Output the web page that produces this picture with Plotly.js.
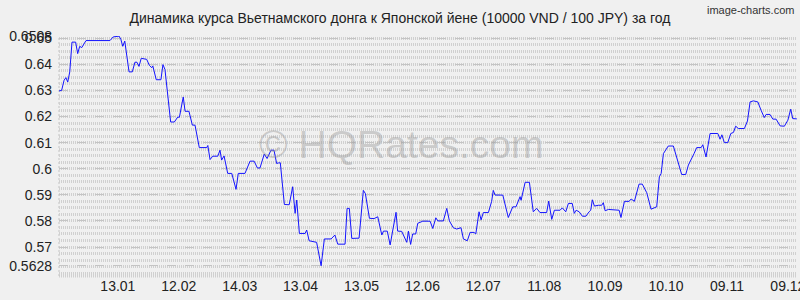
<!DOCTYPE html>
<html>
<head>
<meta charset="utf-8">
<script src="https://cdn.plot.ly/plotly-3.0.1.min.js"></script>
<style>html,body{margin:0;padding:0;background:#f0f0f0;}#chart{width:800px;height:300px;}</style>
</head>
<body>
<div id="chart"></div>
<script>
// Day offsets from the first observation (mid-December), and rate values (10000 VND / 100 JPY)
const days = [
  0,1.3,2.5,3.4,4.3,5.3,6.4,8.2,9.2,10.2,11.2,13.3,25.1,26.7,29.6,30.5,31.4,32.4,34.5,36.1,
  37.4,38.4,39.4,40.5,43.2,44.5,45.7,46.2,47.9,50.2,51.2,52.2,55.0,56.8,58.5,59.3,61.2,62.1,64.0,65.7,
  67.0,69.1,72.8,73.3,74.4,75.7,78.2,79.3,80.1,81.3,83.1,85.1,87.2,88.3,91.6,94.1,96.1,97.7,99.0,101.1,
  102.5,104.4,105.9,107.2,108.0,109.0,111.0,113.4,115.1,116.3,117.1,118.4,121.2,
  122.0,123.2,126.9,129.1,130.7,134.0,135.9,137.3,140.9,141.9,143.0,144.2,147.8,149.9,150.9,152.9,155.2,157.0,159.0,159.8,
  161.7,163.1,166.0,166.8,168.8,171.3,172.1,173.2,174.2,175.7,176.7,179.2,182.8,184.1,185.6,186.6,189.3,191.0,192.3,194.2,
  195.9,198.0,199.2,201.1,202.5,204.4,205.3,206.9,207.9,209.0,211.5,213.1,213.9,214.8,218.6,221.3,223.5,225.1,227.1,227.6,
  229.6,231.7,233.6,235.3,236.9,240.2,241.2,
  242.7,244.0,246.8,247.9,249.6,250.9,252.8,253.8,254.7,256.2,257.8,259.5,261.1,261.9,262.7,263.7,265.7,267.3,268.1,269.0,
  270.6,275.9,276.8,278.5,280.8,281.8,283.4,285.7,287.3,289.5,291.6,294.4,295.7,296.6,297.7,300.1,302.6,304.8,306.7,308.7,
  310.0,312.8,314.1,316.3,317.1,318.7,320.7,324.5,325.6,326.5,327.7,329.4,330.9,332.2,333.3,334.6,337.6,339.1,340.4,342.0,
  344.2,345.8,347.4,348.3,350.2,351.6,353.2,355.2,357.3,359.0,360.4,361.4,363.4
];
const rates = [
  0.6298,0.6300,0.6339,0.6349,0.6332,0.6371,0.6485,0.6485,0.6441,0.6469,0.6464,0.6491,0.6491,0.6505,0.6508,0.6495,0.6469,0.6489,0.6371,0.6371,
  0.6408,0.6408,0.6392,0.6423,0.6419,0.6396,0.6387,0.6394,0.6341,0.6341,0.6399,0.6380,0.6179,0.6179,0.6198,0.6197,0.6275,0.6220,0.6220,0.6167,
  0.6167,0.6081,0.6081,0.6089,0.6035,0.6048,0.6048,0.6071,0.6033,0.6049,0.5982,0.5982,0.5921,0.5982,0.5982,0.6029,0.6029,0.6003,0.6003,0.6056,
  0.6039,0.6071,0.6071,0.6020,0.6022,0.6023,0.5863,0.5862,0.5931,0.5829,0.5880,0.5752,0.5752,
  0.5765,0.5724,0.5718,0.5628,0.5731,0.5731,0.5746,0.5711,0.5711,0.5848,0.5848,0.5733,0.5734,0.5917,0.5905,0.5810,0.5809,0.5816,0.5746,0.5761,
  0.5761,0.5708,0.5833,0.5761,0.5760,0.5718,0.5761,0.5710,0.5750,0.5750,0.5791,0.5799,0.5799,0.5771,0.5812,0.5800,0.5800,0.5848,0.5800,0.5774,
  0.5769,0.5774,0.5731,0.5724,0.5756,0.5756,0.5750,0.5835,0.5804,0.5832,0.5832,0.5875,0.5917,0.5899,0.5899,0.5813,0.5854,0.5854,0.5893,0.5879,
  0.5948,0.5948,0.5835,0.5848,0.5832,0.5832,0.5876,
  0.5806,0.5841,0.5841,0.5850,0.5835,0.5867,0.5867,0.5829,0.5841,0.5835,0.5818,0.5818,0.5835,0.5841,0.5881,0.5857,0.5860,0.5860,0.5870,0.5839,
  0.5844,0.5841,0.5813,0.5875,0.5875,0.5884,0.5875,0.5941,0.5941,0.5908,0.5845,0.5854,0.5969,0.5982,0.6058,0.6087,0.6087,0.6033,0.5978,0.5978,
  0.6014,0.6058,0.6081,0.6081,0.6092,0.6045,0.6135,0.6135,0.6113,0.6130,0.6100,0.6100,0.6135,0.6139,0.6163,0.6154,0.6154,0.6183,0.6256,0.6260,
  0.6256,0.6224,0.6196,0.6208,0.6208,0.6190,0.6190,0.6164,0.6163,0.6186,0.6228,0.6192,0.6191
];
const xTickDays = [29,59,89,119,149,179,209,239,269,299,329,359];
const xTickLabels = ['13.01','12.02','14.03','13.04','13.05','12.06','12.07','11.08','10.09','10.10','09.11','09.12'];
const yTickVals = [0.5628,0.57,0.58,0.59,0.60,0.61,0.62,0.63,0.64,0.65,0.6508];
const yTickLabels = ['0.5628','0.57','0.58','0.59','0.6','0.61','0.62','0.63','0.64','0.65','0.6508'];
const titleText = 'Динамика курса Вьетнамского донга к Японской йене (10000 VND / 100 JPY) за год';

const trace = {
  x: days, y: rates, type: 'scatter', mode: 'lines',
  line: {color: '#1414ff', width: 1}, hoverinfo: 'skip'
};

const layout = {
  width: 800, height: 300,
  paper_bgcolor: '#f0f0f0', plot_bgcolor: '#f0f0f0',
  margin: {l: 59, r: 3, t: 36, b: 24},
  showlegend: false,
  title: {
    text: titleText, xref: 'container', x: 0.5, xanchor: 'center',
    yref: 'container', y: 0.94, yanchor: 'middle',
    font: {family: '"Liberation Sans Narrow", "Arial Narrow", "Liberation Sans", Arial, sans-serif', size: 14, color: '#222'}
  },
  font: {family: '"Liberation Sans", Arial, sans-serif', color: '#222'},
  xaxis: {
    range: [0, 363.5], tickmode: 'array', tickvals: xTickDays, ticktext: xTickLabels,
    showgrid: false, zeroline: false, showline: false, ticks: '',
    ticklabeloverflow: 'allow',
    tickfont: {size: 14, color: '#222'}
  },
  yaxis: {
    range: [0.5589, 0.65085], tickmode: 'array', tickvals: yTickVals, ticktext: yTickLabels,
    showgrid: true, gridcolor: '#c4c4c4', gridwidth: 1, griddash: 'dash',
    zeroline: false, showline: false, ticks: '', ticklabelstandoff: 6,
    tickfont: {size: 14, color: '#222'},
    minor: {tickmode: 'linear', tick0: 0.57, dtick: 0.0025, showgrid: true,
            gridcolor: '#d0d0d0', gridwidth: 3, griddash: '1px,1px', ticks: ''}
  },
  shapes: [
    {type: 'line', xref: 'paper', yref: 'paper', x0: 0, x1: 1, y0: 0, y1: 0,
     line: {color: '#d0d0d0', width: 3, dash: '1px,1px'}, layer: 'below'},
    {type: 'line', xref: 'paper', yref: 'paper', x0: 0, x1: 0, y0: 0, y1: 1,
     line: {color: '#c4c4c4', width: 1, dash: '2px,2px'}, layer: 'below'}
  ],
  annotations: [
    {text: '© HQRates.com', xref: 'paper', yref: 'paper', x: 0.463, y: 0.546,
     xanchor: 'center', yanchor: 'middle', showarrow: false,
     font: {family: '"Liberation Sans", Arial, sans-serif', size: 39, color: 'rgba(150,150,150,0.42)'}},
    {text: 'image-charts.com', xref: 'paper', yref: 'paper', x: 0.998, y: 1.143,
     xanchor: 'right', yanchor: 'top', showarrow: false,
     font: {family: '"Liberation Sans Narrow", "Arial Narrow", "Liberation Sans", sans-serif', size: 11, color: '#333'}}
  ]
};

Plotly.newPlot('chart', [trace], layout, {staticPlot: true});
</script>
</body>
</html>
